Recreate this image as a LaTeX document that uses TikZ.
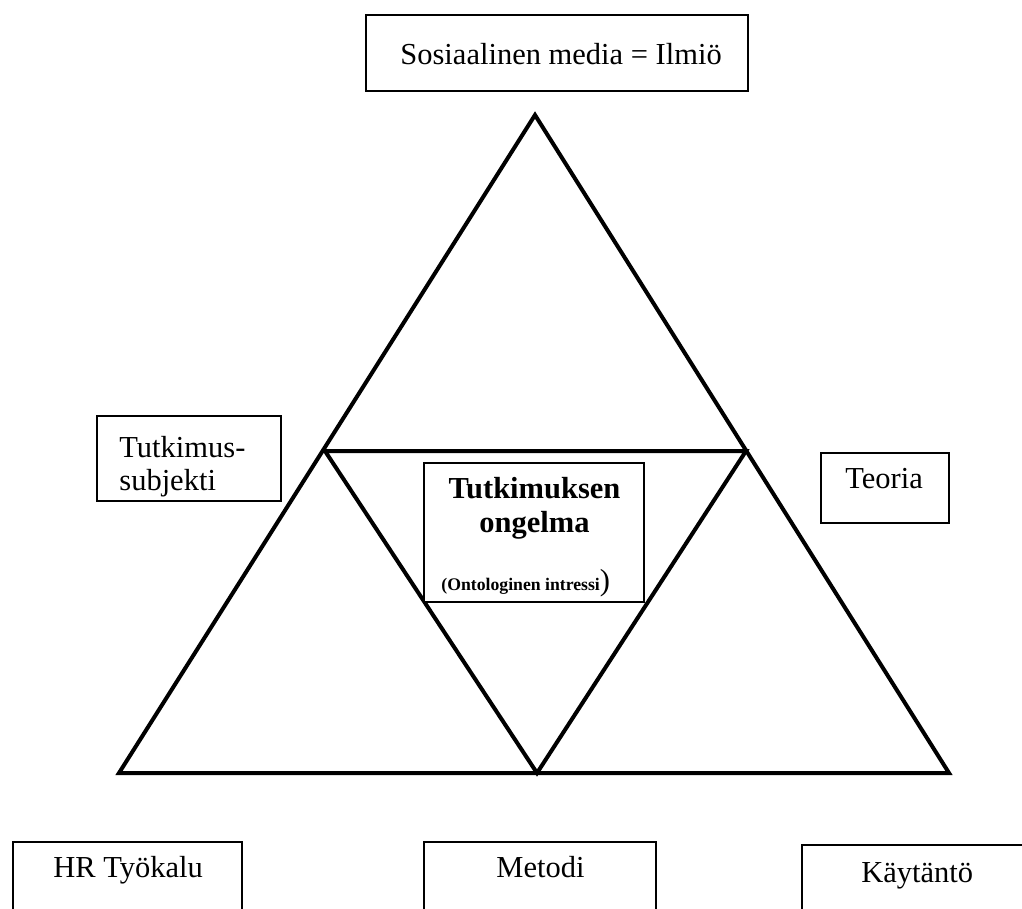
\documentclass[tikz,border=0pt]{standalone}
\usepackage{fontspec}
\setmainfont{Liberation Serif}
\usetikzlibrary{positioning}

\begin{document}
\begin{tikzpicture}[x=0.5pt,y=-0.5pt]
  \tikzstyle{box} = [rectangle, draw, line width=0.9pt, inner sep=0pt]
  \tikzstyle{lbl} = [inner sep=0pt, font=\fontsize{15.25}{17}\selectfont]
  \tikzstyle{bold} = [inner sep=0pt, font=\fontsize{15.25}{17}\selectfont\bfseries]
  \tikzstyle{small} = [inner sep=0pt, font=\fontsize{8.85}{10}\selectfont\bfseries]
  \tikzstyle{line} = [line width=2pt, draw]
\useasboundingbox (0,0) rectangle (1022,909);
\clip (0,0) rectangle (1022,909);
% triangle
\coordinate (top) at (535,115);
\coordinate (left) at (119,773);
\coordinate (right) at (949,773);
\coordinate (lmid) at (325,451);
\coordinate (rmid) at (746,451);
\coordinate (bmid) at (537,773);
\path [line] (top) -- (right) -- (left) -- cycle;
\path [line] (lmid) -- (rmid) -- (bmid) -- cycle;
% boxes
\node [box, minimum width=191pt, minimum height=38pt] (ilmio) at (557,53) {};
\node [box, minimum width=92pt, minimum height=42.5pt] (subj) at (189,458.5) {};
\node [box, minimum width=64pt, minimum height=35pt] (teoria) at (885,488) {};
\node [box, fill=white, minimum width=110pt, minimum height=69.5pt] (ongelma) at (534,532.5) {};
\node [box, minimum width=114.5pt, minimum height=60pt] (hr) at (127.5,902) {};
\node [box, minimum width=116pt, minimum height=60pt] (metodi) at (540,902) {};
\node [box, minimum width=130pt, minimum height=60pt] (kaytanto) at (932,905) {};
% texts
\node [lbl, anchor=base west] (t1) at (400,65) {Sosiaalinen media = Ilmiö};
\node [lbl, anchor=base west] (t2) at (119,457) {Tutkimus-};
\node [lbl, anchor=base west] (t3) at (119,490) {subjekti};
\node [lbl, anchor=base west] (t4) at (845,488) {Teoria};
\node [bold, anchor=base] (t5) at (534.5,498) {Tutkimuksen};
\node [bold, anchor=base] (t6) at (534.5,532) {ongelma};
\node [small, anchor=base west] (t7) at (441,590) {(Ontologinen intressi\fontsize{15.25}{17}\selectfont\mdseries)};
\node [lbl, anchor=base west] (t8) at (53,877) {HR Työkalu};
\node [lbl, anchor=base west] (t9) at (496,877) {Metodi};
\node [lbl, anchor=base west] (t10) at (861,882) {Käytäntö};
\end{tikzpicture}
\end{document}
